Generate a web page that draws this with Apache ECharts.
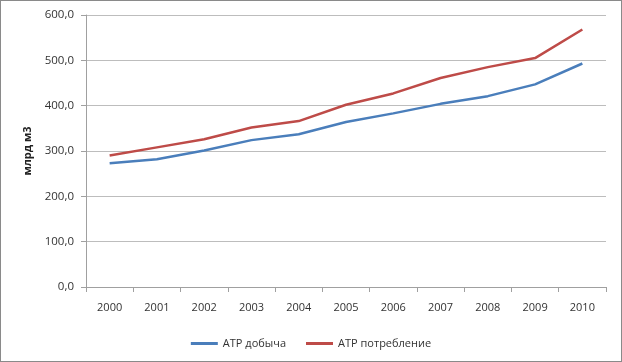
<!DOCTYPE html>
<html><head><meta charset="utf-8">
<script src="https://cdn.jsdelivr.net/npm/echarts@6/dist/echarts.min.js"></script>
<style>html,body{margin:0;padding:0;background:#fff}
#c{width:620px;height:360px;border:1px solid #8a8a8a;}</style>
</head><body><div id="c"></div>
<script>
var categories = ['2000','2001','2002','2003','2004','2005','2006','2007','2008','2009','2010'];
var production = [273, 282, 301, 324, 337, 364, 383, 404, 421, 447, 493];
var consumption = [290, 308, 326, 352, 366, 402, 427, 461, 485, 505, 568];
var seriesNames = ['АТР добыча', 'АТР потребление'];
var chart = echarts.init(document.getElementById('c'));
var font = 'Open Sans';
chart.setOption({
  animation: false,
  grid: {left: 85, right: 15, top: 14, bottom: 74},
  legend: {bottom: 7, left: 'center', itemWidth: 27, itemHeight: 3, itemGap: 20,
    icon: 'rect',
    textStyle: {fontFamily: font, fontSize: 11, color: '#333'},
    data: seriesNames},
  xAxis: {type: 'category', data: categories, boundaryGap: true,
    axisLine: {lineStyle: {color: '#a0a0a0'}},
    axisTick: {show: true, length: 5, lineStyle: {color: '#a0a0a0'}},
    axisLabel: {fontFamily: font, fontSize: 11, color: '#333', margin: 15}},
  yAxis: {type: 'value', min: 0, max: 600, interval: 100,
    name: 'млрд м3', nameLocation: 'middle', nameGap: 50, nameRotate: 90,
    nameTextStyle: {fontFamily: font, fontSize: 11, fontWeight: 'bold', color: '#222'},
    axisLine: {show: true, lineStyle: {color: '#a0a0a0'}},
    axisTick: {show: true, length: 5, lineStyle: {color: '#a0a0a0'}},
    splitLine: {lineStyle: {color: '#bdbdbd'}},
    axisLabel: {fontFamily: font, fontSize: 11.5, color: '#333', margin: 12,
      formatter: function(v){ return v.toFixed(1).replace('.', ','); }}},
  series: [
    {name: seriesNames[0], type: 'line', data: production, symbol: 'none',
      lineStyle: {width: 2.5, color: '#4a7ebb'}, itemStyle: {color: '#4a7ebb'}},
    {name: seriesNames[1], type: 'line', data: consumption, symbol: 'none',
      lineStyle: {width: 2.5, color: '#be4b48'}, itemStyle: {color: '#be4b48'}}
  ]
});
</script></body></html>
